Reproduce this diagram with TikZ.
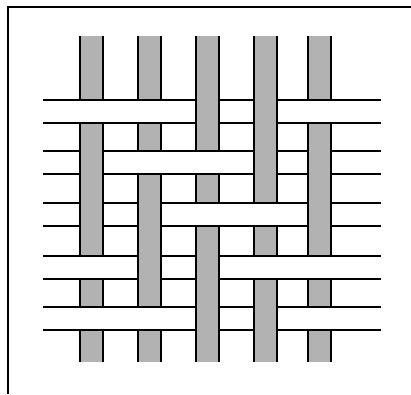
\documentclass[tikz,border=0pt]{standalone}
\usepackage{tikz}
\definecolor{warpgray}{gray}{0.7}
\tikzset{
  threadedge/.style={line width=1.4pt},
  frameline/.style={line width=2pt},
}

\begin{document}
\begin{tikzpicture}[x=1pt, y=-1pt]
    \useasboundingbox (0,0) rectangle (411,394);
    % Frame
    \draw[frameline] (8,394) -- (8,7) -- (411,7);

    % Warp threads (vertical)
    \foreach \x in {80,138,196,254,308} {
        \fill[warpgray] (\x,36) rectangle (\x+23,362);
        \draw[threadedge] (\x,36) -- (\x,362) (\x+23,36) -- (\x+23,362);
    }

    % Weft threads (horizontal)
    \foreach \y in {100,151,203,256,307} {
        \fill[white] (43,\y) rectangle (381,\y+23);
        \draw[threadedge] (43,\y) -- (381,\y) (43,\y+23) -- (381,\y+23);
    }

    % Crossings where the warp lies on top
    \foreach \x/\y in {196/100, 254/100,
                       80/151, 254/151, 308/151,
                       80/203, 138/203, 308/203,
                       138/256, 196/256,
                       196/307, 254/307} {
        \fill[warpgray] (\x,\y-1) rectangle (\x+23,\y+24);
        \draw[threadedge] (\x,\y-1) -- (\x,\y+24) (\x+23,\y-1) -- (\x+23,\y+24);
    }
\end{tikzpicture}
\end{document}
